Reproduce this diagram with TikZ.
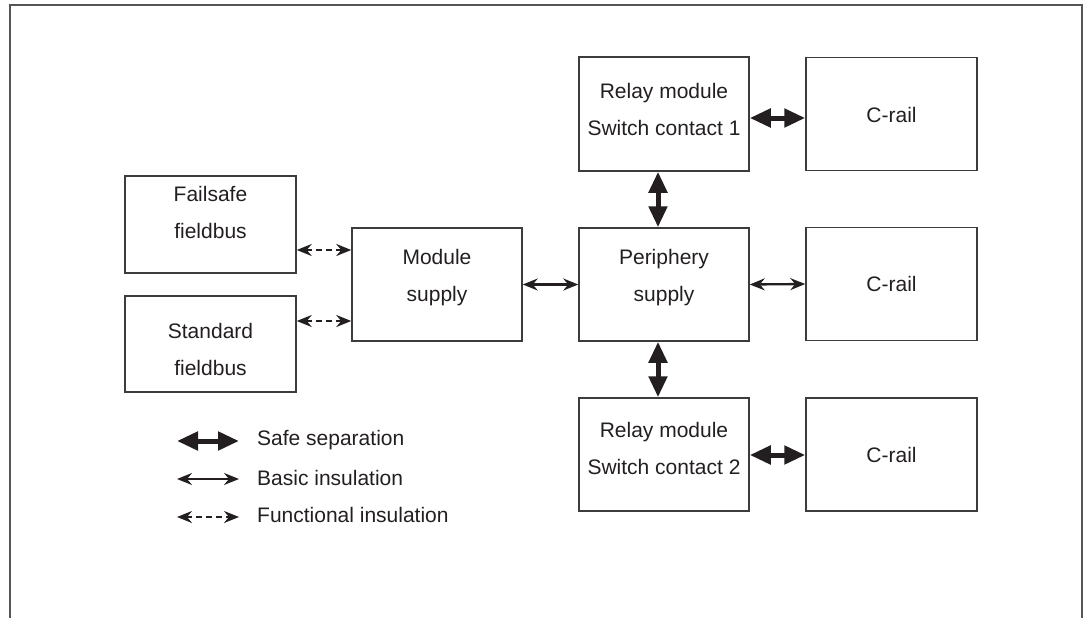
\documentclass[tikz,border=0pt]{standalone}
\usepackage{fontspec}
\setmainfont{Liberation Sans}
\usetikzlibrary{arrows.meta}
\definecolor{ink}{HTML}{231F20}
\definecolor{boxline}{HTML}{3C3C3C}
\definecolor{framec}{HTML}{555555}
\tikzset{
  blk/.style={draw=boxline, line width=1.5pt, inner sep=0pt, minimum width=#1},
  lbl/.style={align=center, text=ink, font=\fontsize{21}{37}\selectfont, inner sep=0pt},
  legtxt/.style={anchor=west, text=ink, font=\fontsize{21}{25}\selectfont, inner sep=0pt},
  safe/.style={draw=ink, line width=5pt, {Triangle[length=21pt,width=18pt]}-{Triangle[length=21pt,width=18pt]}},
  basic/.style={draw=ink, line width=2.3pt, {Stealth[length=15pt,width=12pt,inset=5pt]}-{Stealth[length=15pt,width=12pt,inset=5pt]}},
  func/.style={draw=ink, line width=2.3pt, dash pattern=on 6pt off 4pt, {Stealth[length=15pt,width=12pt,inset=5pt]}-{Stealth[length=15pt,width=12pt,inset=5pt]}}
}
\begin{document}
\begin{tikzpicture}[x=1pt,y=-1pt]
\useasboundingbox (0,0) rectangle (1092,618);
% frame
\draw[framec, line width=2pt] (10,618) -- (10,5) -- (1082,5) -- (1082,618);

% boxes
\node[blk=171pt, minimum height=97pt] (failsafe) at (210.5,224.5) {};
\node[blk=171pt, minimum height=96pt] (standard) at (210.5,344) {};
\node[blk=170pt, minimum height=113pt] (module) at (437,284.5) {};
\node[blk=170pt, minimum height=113pt] (periph) at (664,284.5) {};
\node[blk=170pt, minimum height=114pt] (relay1) at (664,114) {};
\node[blk=170pt, minimum height=113pt] (relay2) at (664,454.5) {};
\node[blk=171pt, minimum height=113pt] (crail1) at (891.5,114) {};
\node[blk=171pt, minimum height=113pt] (crail2) at (891.5,284) {};
\node[blk=171pt, minimum height=113pt] (crail3) at (891.5,454.5) {};

% labels
\node[lbl] (failsafe-t) at (210.5,212) {Failsafe\\fieldbus};
\node[lbl] (standard-t) at (210.5,349) {Standard\\fieldbus};
\node[lbl] (module-t) at (437,278) {Module\\supply};
\node[lbl] (periph-t) at (664,278) {Periphery\\supply};
\node[lbl] (relay1-t) at (664,109.5) {Relay module\\Switch contact 1};
\node[lbl] (relay2-t) at (664,448.5) {Relay module\\Switch contact 2};
\node[lbl] (crail1-t) at (891.5,115) {C-rail};
\node[lbl] (crail2-t) at (891.5,284) {C-rail};
\node[lbl] (crail3-t) at (891.5,455) {C-rail};

% connectors
\draw[func] (failsafe.east |- 0,250) -- (module.west |- 0,250);
\draw[func] (standard.east |- 0,321) -- (module.west |- 0,321);
\draw[basic] (module.east) -- (periph.west);
\draw[basic] (periph.east) -- (crail2.west);
\draw[safe] (relay1.east |- 0,118) -- (crail1.west |- 0,118);
\draw[safe] (relay2.east |- 0,455) -- (crail3.west |- 0,455);
\draw[safe] (relay1.south -| 658,0) -- (periph.north -| 658,0);
\draw[safe] (periph.south -| 658,0) -- (relay2.north -| 658,0);

% legend
\coordinate (l1a) at (177,441); \coordinate (l1b) at (239,441);
\coordinate (l2a) at (177,479); \coordinate (l2b) at (239,479);
\coordinate (l3a) at (177,517); \coordinate (l3b) at (239,517);
\draw[safe] (l1a) -- (l1b);
\draw[basic] (l2a) -- (l2b);
\draw[func] (l3a) -- (l3b);
\node[legtxt] (leg1) at (257,440) {Safe separation};
\node[legtxt] (leg2) at (257,478) {Basic insulation};
\node[legtxt] (leg3) at (257,515) {Functional insulation};
\end{tikzpicture}
\end{document}
